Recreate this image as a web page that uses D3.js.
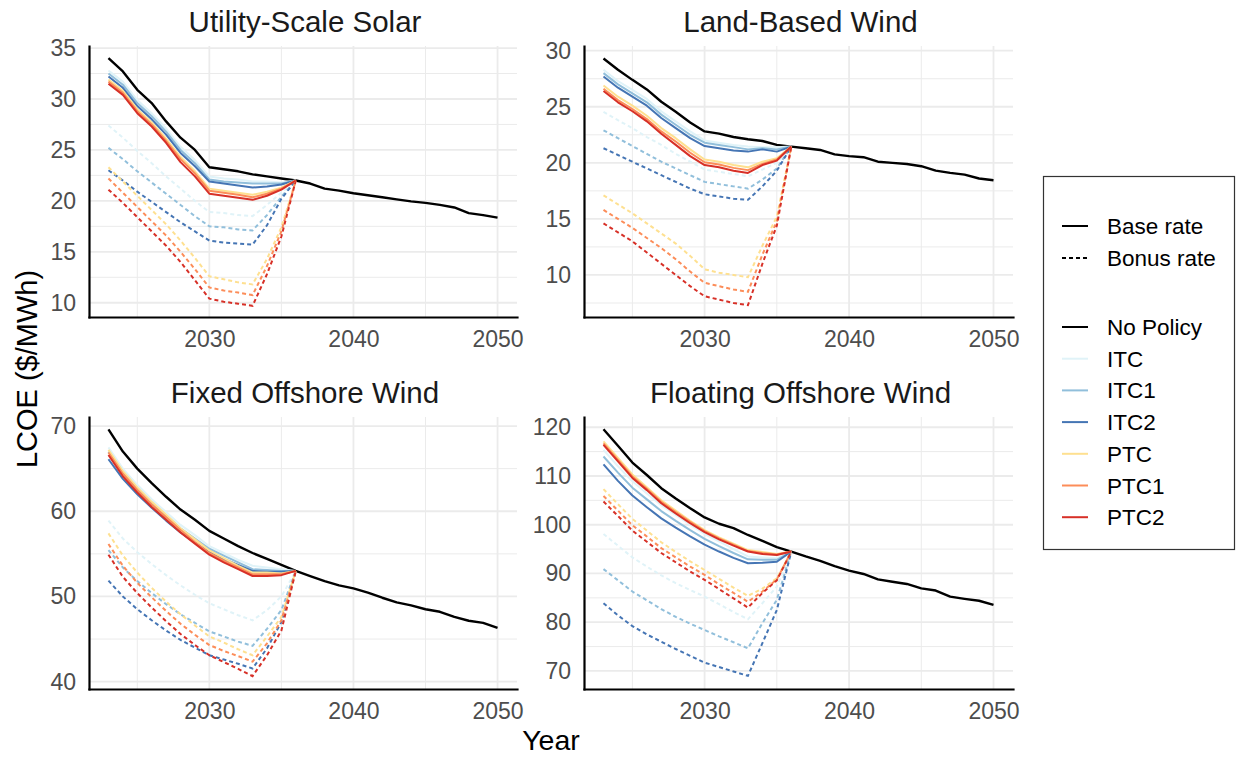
<!DOCTYPE html>
<html>
<head>
<meta charset="utf-8">
<script src="https://cdn.jsdelivr.net/npm/d3@7"></script>
<style>
  body { margin: 0; background: #fff; }
  svg { font-family: "Liberation Sans", Arial, sans-serif; }
</style>
</head>
<body>
<div id="draw_here"></div>
<script>
    // Data
    years_all = [2023, 2024, 2025, 2026, 2027, 2028, 2029, 2030, 2031, 2032, 2033, 2034, 2035, 2036,
                 2037, 2038, 2039, 2040, 2041, 2042, 2043, 2044, 2045, 2046, 2047, 2048, 2049, 2050]
    years_policy = years_all.slice(0, 14)

    policies = ["ITC", "ITC1", "ITC2", "PTC", "PTC1", "PTC2"]
    policy_colors = ["#E0F3F8", "#91BFDB", "#4575B4", "#FEE090", "#FC8D59", "#D73027"]

    x_ticks = [2030, 2040, 2050]

    // Utility-Scale Solar
    solar_none = [34.0, 32.7, 30.9, 29.6, 27.8, 26.2, 25.0, 23.3, 23.1, 22.9, 22.6, 22.4, 22.2, 22.0,
                  21.7, 21.2, 21.0, 20.75, 20.55, 20.35, 20.15, 19.95, 19.8, 19.6, 19.35, 18.8, 18.6, 18.35]
    solar_base = [
        [32.8, 31.7, 29.9, 28.6, 27.1, 25.3, 24.0, 22.4, 22.2, 22.1, 21.9, 21.9, 21.8, 22.0],
        [32.5, 31.4, 29.6, 28.3, 26.8, 25.0, 23.7, 22.1, 21.9, 21.8, 21.7, 21.7, 21.7, 22.0],
        [32.2, 31.1, 29.3, 28.0, 26.5, 24.7, 23.4, 21.9, 21.7, 21.5, 21.3, 21.4, 21.6, 22.0],
        [31.9, 30.8, 29.0, 27.7, 26.1, 24.3, 22.9, 21.2, 21.0, 20.8, 20.6, 20.9, 21.3, 22.0],
        [31.7, 30.6, 28.8, 27.5, 25.9, 24.1, 22.7, 21.0, 20.8, 20.6, 20.35, 20.7, 21.2, 22.0],
        [31.5, 30.4, 28.6, 27.3, 25.7, 23.8, 22.4, 20.7, 20.5, 20.3, 20.1, 20.5, 21.1, 22.0]
    ]
    solar_bonus = [
        [27.4, 26.2, 24.9, 23.7, 22.4, 21.2, 20.0, 18.9, 18.8, 18.6, 18.5, 19.6, 20.8, 22.0],
        [25.2, 24.1, 22.9, 21.8, 20.7, 19.6, 18.5, 17.5, 17.4, 17.2, 17.1, 18.6, 20.4, 22.0],
        [23.0, 22.0, 20.9, 19.9, 18.9, 17.9, 17.0, 16.1, 15.9, 15.8, 15.7, 17.6, 20.2, 22.0],
        [23.3, 21.9, 20.5, 19.1, 17.7, 16.1, 14.4, 12.6, 12.3, 12.0, 11.8, 14.3, 17.4, 22.0],
        [22.2, 20.8, 19.4, 18.0, 16.6, 15.0, 13.3, 11.5, 11.2, 11.0, 10.75, 13.6, 17.0, 22.0],
        [21.1, 19.8, 18.4, 17.0, 15.6, 14.0, 12.2, 10.4, 10.1, 9.9, 9.7, 12.8, 16.5, 22.0]
    ]

    // Land-Based Wind
    land_none = [29.3, 28.3, 27.4, 26.55, 25.45, 24.55, 23.6, 22.8, 22.6, 22.3, 22.1, 21.95, 21.6, 21.45,
                 21.3, 21.15, 20.75, 20.6, 20.5, 20.1, 20.0, 19.9, 19.7, 19.3, 19.1, 18.95, 18.6, 18.45]
    land_base = [
        [28.3, 27.3, 26.5, 25.7, 24.6, 23.7, 22.8, 22.0, 21.8, 21.6, 21.45, 21.4, 21.4, 21.45],
        [28.0, 27.0, 26.2, 25.4, 24.3, 23.4, 22.5, 21.8, 21.6, 21.4, 21.2, 21.3, 21.2, 21.45],
        [27.7, 26.7, 25.9, 25.1, 24.0, 23.1, 22.2, 21.5, 21.3, 21.1, 21.0, 21.2, 21.0, 21.45],
        [26.9, 25.9, 25.1, 24.2, 23.1, 22.2, 21.2, 20.3, 20.1, 19.8, 19.6, 20.1, 20.4, 21.45],
        [26.6, 25.6, 24.8, 23.9, 22.8, 21.9, 20.9, 20.05, 19.85, 19.55, 19.35, 19.9, 20.3, 21.45],
        [26.4, 25.4, 24.6, 23.7, 22.6, 21.6, 20.6, 19.8, 19.6, 19.3, 19.1, 19.8, 20.2, 21.45]
    ]
    land_bonus = [
        [24.55, 23.8, 23.1, 22.3, 21.6, 20.8, 20.1, 19.4, 19.2, 19.0, 18.8, 19.4, 20.0, 21.45],
        [22.9, 22.2, 21.5, 20.8, 20.1, 19.5, 18.9, 18.3, 18.1, 17.9, 17.7, 18.5, 19.5, 21.45],
        [21.3, 20.7, 20.1, 19.5, 18.9, 18.3, 17.7, 17.2, 17.0, 16.8, 16.7, 17.9, 19.3, 21.45],
        [17.1, 16.3, 15.5, 14.6, 13.7, 12.8, 11.7, 10.5, 10.2, 10.0, 9.8, 12.6, 15.2, 21.45],
        [15.8, 15.0, 14.2, 13.3, 12.4, 11.4, 10.3, 9.3, 9.0, 8.7, 8.5, 11.8, 14.8, 21.45],
        [14.6, 13.8, 13.0, 12.0, 11.0, 10.0, 9.0, 8.1, 7.8, 7.5, 7.3, 11.0, 14.4, 21.45]
    ]

    // Fixed Offshore Wind
    fixed_none = [69.6, 67.0, 65.0, 63.3, 61.7, 60.2, 59.0, 57.7, 56.8, 55.9, 55.1, 54.4, 53.7, 53.0,
                  52.4, 51.8, 51.3, 50.95, 50.45, 49.85, 49.3, 48.95, 48.5, 48.2, 47.6, 47.15, 46.9, 46.3]
    fixed_base = [
        [67.5, 65.0, 63.1, 61.4, 59.9, 58.4, 57.2, 55.9, 55.1, 54.3, 53.6, 53.4, 53.2, 53.0],
        [67.0, 64.6, 62.7, 61.0, 59.5, 58.0, 56.8, 55.6, 54.8, 54.0, 53.2, 53.1, 53.0, 53.0],
        [66.1, 63.8, 62.0, 60.4, 58.9, 57.5, 56.3, 55.2, 54.4, 53.7, 53.0, 52.9, 52.9, 53.0],
        [67.2, 64.7, 62.8, 61.1, 59.6, 58.0, 56.7, 55.4, 54.5, 53.6, 52.8, 52.8, 52.7, 53.0],
        [66.9, 64.4, 62.5, 60.8, 59.3, 57.8, 56.4, 55.1, 54.2, 53.4, 52.6, 52.6, 52.6, 53.0],
        [66.6, 64.1, 62.2, 60.5, 59.0, 57.5, 56.2, 54.9, 54.0, 53.2, 52.4, 52.4, 52.5, 53.0]
    ]
    fixed_bonus = [
        [58.9, 56.8, 55.2, 53.8, 52.5, 51.3, 50.2, 49.2, 48.5, 47.8, 47.2, 48.4, 50.0, 53.0],
        [55.45, 53.4, 51.8, 50.4, 49.1, 47.9, 46.9, 45.9, 45.3, 44.7, 44.2, 46.2, 48.4, 53.0],
        [51.85, 50.0, 48.5, 47.2, 46.0, 44.9, 44.0, 43.1, 42.6, 42.1, 41.55, 43.9, 47.0, 53.0],
        [57.4, 54.8, 52.8, 51.0, 49.4, 47.9, 46.6, 45.3, 44.6, 43.8, 43.1, 45.3, 47.6, 53.0],
        [56.15, 53.6, 51.6, 49.9, 48.3, 46.8, 45.5, 44.3, 43.6, 43.0, 42.35, 44.5, 47.2, 53.0],
        [54.9, 52.3, 50.4, 48.7, 47.1, 45.6, 44.3, 43.1, 42.3, 41.5, 40.65, 43.1, 46.0, 53.0]
    ]

    // Floating Offshore Wind
    float_none = [119.6, 116.2, 112.75, 110.2, 107.5, 105.4, 103.4, 101.5, 100.2, 99.3, 97.9, 96.7, 95.4, 94.5,
                  93.5, 92.6, 91.5, 90.6, 89.9, 88.8, 88.3, 87.85, 86.95, 86.5, 85.25, 84.8, 84.4, 83.55]
    float_base = [
        [115.35, 112.0, 108.9, 106.4, 104.0, 102.0, 100.0, 98.1, 96.6, 95.0, 93.5, 93.3, 93.1, 94.5],
        [114.0, 110.7, 107.6, 105.2, 102.8, 100.8, 98.9, 97.1, 95.6, 94.2, 92.9, 92.8, 92.8, 94.5],
        [112.4, 109.0, 106.0, 103.6, 101.3, 99.4, 97.6, 95.9, 94.5, 93.2, 92.1, 92.2, 92.4, 94.5],
        [117.1, 113.7, 110.3, 107.7, 105.0, 102.9, 100.8, 98.9, 97.4, 96.1, 94.8, 94.4, 94.0, 94.5],
        [116.7, 113.3, 109.9, 107.4, 104.7, 102.6, 100.6, 98.7, 97.2, 95.9, 94.6, 94.2, 93.9, 94.5],
        [116.4, 113.0, 109.6, 107.1, 104.4, 102.3, 100.3, 98.5, 97.0, 95.7, 94.5, 94.0, 93.8, 94.5]
    ]
    float_bonus = [
        [98.1, 95.7, 93.3, 91.4, 89.6, 88.0, 86.6, 85.25, 83.7, 82.1, 80.6, 83.9, 87.3, 94.5],
        [90.9, 88.6, 86.3, 84.5, 82.7, 81.1, 79.7, 78.4, 77.1, 75.9, 74.65, 79.8, 84.6, 94.5],
        [83.9, 81.4, 79.2, 77.5, 76.0, 74.5, 73.1, 71.7, 70.8, 69.9, 69.0, 75.7, 82.5, 94.5],
        [107.3, 104.2, 101.2, 98.8, 96.4, 94.4, 92.5, 90.7, 88.9, 87.1, 85.4, 86.9, 89.0, 94.5],
        [105.9, 102.9, 99.9, 97.6, 95.2, 93.3, 91.4, 89.7, 87.8, 86.0, 84.2, 86.3, 88.8, 94.5],
        [104.75, 101.8, 98.8, 96.5, 94.2, 92.3, 90.4, 88.7, 86.8, 84.9, 83.0, 86.0, 88.6, 94.5]
    ]

    // Layout
    canvas = ({width: 1238, height: 757})

    panels = [
        {title: "Utility-Scale Solar", none: solar_none, base: solar_base, bonus: solar_bonus,
         ydom: [8.6, 35.2], yticks: [10, 15, 20, 25, 30, 35], left: 89, right: 517, top: 46, bottom: 317},
        {title: "Land-Based Wind", none: land_none, base: land_base, bonus: land_bonus,
         ydom: [6.25, 30.42], yticks: [10, 15, 20, 25, 30], left: 584, right: 1013, top: 46, bottom: 317},
        {title: "Fixed Offshore Wind", none: fixed_none, base: fixed_base, bonus: fixed_bonus,
         ydom: [39.14, 71.06], yticks: [40, 50, 60, 70], left: 89, right: 517, top: 417, bottom: 689},
        {title: "Floating Offshore Wind", none: float_none, base: float_base, bonus: float_bonus,
         ydom: [66.3, 122.1], yticks: [70, 80, 90, 100, 110, 120], left: 584, right: 1013, top: 417, bottom: 689}
    ]

    grid_col = "#ebebeb"
    tick_col = "#4d4d4d"

    var svg = d3.select("div#draw_here").append("svg")
        .attr("width", canvas.width)
        .attr("height", canvas.height)
        .attr("viewBox", [0, 0, canvas.width, canvas.height]);

    panels.forEach(p => {
        var x = d3.scaleLinear()
            .domain([2021.65, 2051.35])
            .range([p.left, p.right])
        var y = d3.scaleLinear()
            .domain(p.ydom)
            .range([p.bottom, p.top])

        var g = svg.append("g")

        // minor grid
        var step = p.yticks[1] - p.yticks[0]
        var y_minor = d3.range(p.yticks[0] - step / 2, p.ydom[1], step).filter(v => v >= p.ydom[0])
        var x_minor = [2025, 2035, 2045]

        g.selectAll(".ym").data(y_minor).join("line")
            .attr("x1", p.left).attr("x2", p.right)
            .attr("y1", d => y(d)).attr("y2", d => y(d))
            .attr("stroke", grid_col).attr("stroke-width", 1)
        g.selectAll(".xm").data(x_minor).join("line")
            .attr("x1", d => x(d)).attr("x2", d => x(d))
            .attr("y1", p.top).attr("y2", p.bottom)
            .attr("stroke", grid_col).attr("stroke-width", 1)

        // major grid
        g.append("g").selectAll("line").data(p.yticks).join("line")
            .attr("x1", p.left).attr("x2", p.right)
            .attr("y1", d => y(d)).attr("y2", d => y(d))
            .attr("stroke", grid_col).attr("stroke-width", 1.8)
        g.append("g").selectAll("line").data(x_ticks).join("line")
            .attr("x1", d => x(d)).attr("x2", d => x(d))
            .attr("y1", p.top).attr("y2", p.bottom)
            .attr("stroke", grid_col).attr("stroke-width", 1.8)

        // lines
        var line = d3.line()
            .x(d => x(d[0]))
            .y(d => y(d[1]))

        g.append("path")
            .attr("fill", "none")
            .attr("stroke", "#000")
            .attr("stroke-width", 2.4)
            .attr("stroke-linejoin", "round")
            .attr("d", line(d3.zip(years_all, p.none)))

        p.bonus.forEach((vals, i) => {
            g.append("path")
                .attr("fill", "none")
                .attr("stroke", policy_colors[i])
                .attr("stroke-width", 2)
                .attr("stroke-dasharray", "4,3")
                .attr("d", line(d3.zip(years_policy, vals)))
        })
        p.base.forEach((vals, i) => {
            g.append("path")
                .attr("fill", "none")
                .attr("stroke", policy_colors[i])
                .attr("stroke-width", 2)
                .attr("stroke-linejoin", "round")
                .attr("d", line(d3.zip(years_policy, vals)))
        })

        // axes
        var xAxis = g.append("g")
            .attr("transform", `translate(0,${p.bottom})`)
            .call(d3.axisBottom(x).tickValues(x_ticks).tickFormat(d3.format("d")).tickSize(0).tickPadding(14))
        var yAxis = g.append("g")
            .attr("transform", `translate(${p.left},0)`)
            .call(d3.axisLeft(y).tickValues(p.yticks).tickSize(0).tickPadding(13))

        ;[xAxis, yAxis].forEach(a => {
            a.attr("font-size", null).attr("font-family", null)
            a.select(".domain")
                .attr("stroke", "#000")
                .attr("stroke-width", 2.2)
                .attr("stroke-linecap", "square")
            a.selectAll("text")
                .attr("fill", tick_col)
                .style("font-size", "23px")
        })

        // title
        svg.append("text")
            .attr("x", (p.left + p.right) / 2 + 2)
            .attr("y", p.top - 14)
            .attr("text-anchor", "middle")
            .attr("fill", "#1a1a1a")
            .style("font-size", "29.5px")
            .text(p.title)
    })

    // axis titles
    svg.append("text")
        .attr("x", 551)
        .attr("y", 750)
        .attr("text-anchor", "middle")
        .attr("fill", "#000")
        .style("font-size", "28.5px")
        .text("Year")

    svg.append("text")
        .attr("transform", "translate(37,369) rotate(-90)")
        .attr("text-anchor", "middle")
        .attr("fill", "#000")
        .style("font-size", "29px")
        .text("LCOE ($/MWh)")

    // legend
    var lg = svg.append("g")
    lg.append("rect")
        .attr("x", 1043.5).attr("y", 176.5)
        .attr("width", 191).attr("height", 373)
        .attr("fill", "#fff")
        .attr("stroke", "#333")
        .attr("stroke-width", 1.2)

    rate_labels = ["Base rate", "Bonus rate"]
    rate_dash = [null, "4,3"]
    rate_y = [234, 266]

    rate_labels.forEach((t, i) => {
        lg.append("line")
            .attr("x1", 1062).attr("x2", 1088)
            .attr("y1", rate_y[i] - 8).attr("y2", rate_y[i] - 8)
            .attr("stroke", "#000").attr("stroke-width", 2)
            .attr("stroke-dasharray", rate_dash[i])
        lg.append("text")
            .attr("x", 1107).attr("y", rate_y[i])
            .attr("fill", "#000")
            .style("font-size", "22.5px")
            .text(t)
    })

    legend_labels = ["No Policy"].concat(policies)
    legend_colors = ["#000"].concat(policy_colors)

    legend_labels.forEach((t, i) => {
        var yy = 335 + i * 31.7
        lg.append("line")
            .attr("x1", 1062).attr("x2", 1088)
            .attr("y1", yy - 8).attr("y2", yy - 8)
            .attr("stroke", legend_colors[i]).attr("stroke-width", 2)
        lg.append("text")
            .attr("x", 1107).attr("y", yy)
            .attr("fill", "#000")
            .style("font-size", "22.5px")
            .text(t)
    })
</script>
</body>
</html>
